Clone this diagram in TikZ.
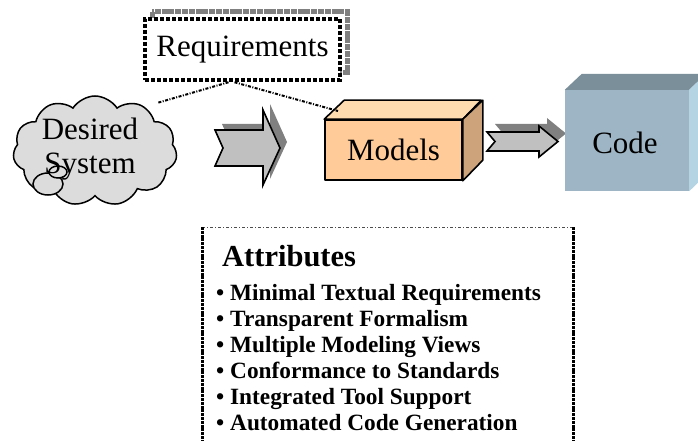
\documentclass[tikz,border=0pt]{standalone}
\usepackage{fontspec}
\setmainfont{Liberation Serif}
\usetikzlibrary{shapes.symbols}

\definecolor{cloudfill}{HTML}{DCDCDC}
\definecolor{chevfill}{HTML}{C0C0C0}
\definecolor{chevshade}{HTML}{808080}
\definecolor{modelfront}{HTML}{FFCC99}
\definecolor{modeltop}{HTML}{FFDCB0}
\definecolor{modelside}{HTML}{CCA37A}
\definecolor{codefront}{HTML}{9DB5C4}
\definecolor{codetop}{HTML}{7B8F9A}
\definecolor{codeside}{HTML}{B4D4E4}

\tikzset{
  bigtext/.style={font=\fontsize{31}{37}\selectfont},
  chevbody/.style={draw=black, line width=1.6, fill=chevfill, line join=miter},
  chevshadow/.style={fill=chevshade},
  boxedge/.style={draw=black, line width=1.6, line join=round},
  reqframe/.style={draw=black, line width=4.5, dash pattern=on 4pt off 2pt, fill=white},
  reqshadow/.style={draw=chevshade, line width=5, dash pattern=on 6pt off 0.8pt},
  linkline/.style={draw=black, line width=2, dash pattern=on 3pt off 1.5pt on 1pt off 1.5pt},
  attrside/.style={draw=black, line width=3, dash pattern=on 3pt off 0.8pt},
  attrtop/.style={draw=black!70, line width=0.9, dash pattern=on 3pt off 2pt on 1pt off 2pt},
  attrtitle/.style={font=\bfseries\fontsize{30.5}{36}\selectfont, anchor=base west, inner sep=0},
  attritem/.style={font=\bfseries\fontsize{23.3}{26}\selectfont, anchor=base west, inner sep=0},
}

\begin{document}
\begin{tikzpicture}[x=1pt, y=-1pt]
\useasboundingbox (0,0) rectangle (698,441);
\clip (0,0) rectangle (698,441);

% ---- cloud: the desired system ----
\node[cloud, cloud puffs=11, cloud puff arc=115, aspect=1.5, draw=black, line width=1.5,
      fill=cloudfill, minimum width=164, minimum height=110, inner sep=0] (sys) at (95,151) {};
\draw[black, line width=1.5, fill=cloudfill] (48,184) ellipse [x radius=15, y radius=11];
\draw[black, line width=1.5, fill=cloudfill] (58,172) ellipse [x radius=9, y radius=6];
\node[bigtext, align=center, inner sep=0] (syslabel) at (90,149) {Desired\\[-3pt]System};

% ---- requirements box with its shadow ----
\draw[reqshadow] (152,12) rectangle (347,73);
\node[reqframe, bigtext, minimum width=195, minimum height=61, inner sep=0] (req) at (242.5,49.5) {Requirements};

% ---- chevron arrow: system to models ----
\path[chevshadow, shift={(7,-6)}]
  (215,130) -- (263,130) -- (263,110) -- (280,148) -- (263,185) -- (263,166) -- (215,166) -- (223,148) -- cycle;
\path[chevbody]
  (215,130) -- (263,130) -- (263,110) -- (280,148) -- (263,185) -- (263,166) -- (215,166) -- (223,148) -- cycle;

% ---- models box ----
\node[boxedge, fill=modelfront, bigtext, minimum width=137, minimum height=60, inner sep=0] (models) at (393.5,150) {Models};
\draw[boxedge, fill=modeltop] (models.north west) -- ++(20,-19) -- ++(137,0) -- (models.north east) -- cycle;
\draw[boxedge, fill=modelside] (models.north east) -- ++(20,-19) -- ++(0,60) -- (models.south east) -- cycle;

% ---- dotted links from requirements ----
\coordinate (cloudtip) at (157,103);
\coordinate (boxtip) at (338,111);
\draw[linkline] ([xshift=-14]req.south) -- (cloudtip);
\draw[linkline] ([xshift=-8]req.south) -- (boxtip);

% ---- chevron arrow: models to code ----
\path[chevshadow, shift={(8,-8)}]
  (487,132) -- (539,132) -- (539,126) -- (558,141.5) -- (539,157) -- (539,151) -- (487,151) -- (495,141.5) -- cycle;
\path[chevbody]
  (487,132) -- (539,132) -- (539,126) -- (558,141.5) -- (539,157) -- (539,151) -- (487,151) -- (495,141.5) -- cycle;

% ---- code box ----
\node[fill=codefront, bigtext, minimum width=124, minimum height=101, inner sep=0] (code) at (627,140.5) {};
\fill[codetop] (code.north west) -- ++(17,-16) -- ++(124,0) -- (code.north east) -- cycle;
\fill[codeside] (code.north east) -- ++(17,-16) -- ++(0,101) -- (code.south east) -- cycle;
\node[bigtext, inner sep=0] (codelabel) at (625,143) {Code};

% ---- attributes panel ----
\draw[attrtop] (202,227) -- (573,227);
\draw[attrside] (202,227) -- (202,445);
\draw[attrside] (573,227) -- (573,445);
\node[attrtitle] (attr) at (222,266) {Attributes};
\node[attritem] (a1) at (216,300) {• Minimal Textual Requirements};
\node[attritem] (a2) at (216,326) {• Transparent Formalism};
\node[attritem] (a3) at (216,352) {• Multiple Modeling Views};
\node[attritem] (a4) at (216,378) {• Conformance to Standards};
\node[attritem] (a5) at (216,404) {• Integrated Tool Support};
\node[attritem] (a6) at (216,430) {• Automated Code Generation};
\end{tikzpicture}
\end{document}
